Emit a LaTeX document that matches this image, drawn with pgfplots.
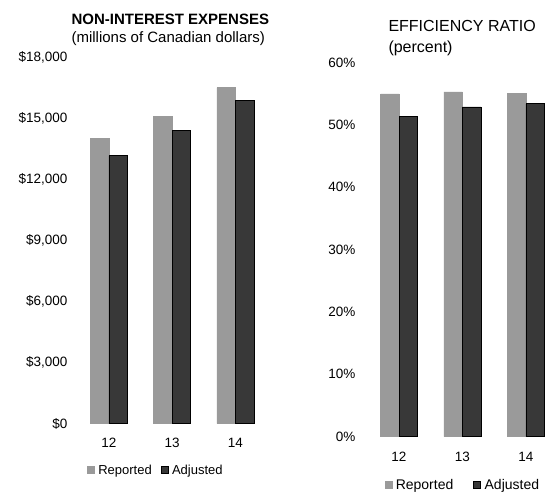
\documentclass[border=0pt]{standalone}
\usepackage{pgfplots}
\pgfplotsset{compat=1.18}
\usepackage{fontspec}
\setmainfont{Liberation Sans}

\definecolor{repgray}{HTML}{9A9A9A}
\definecolor{adjdark}{HTML}{383838}

\pgfplotsset{
    tdbars/.style={
        scale only axis,
        anchor=south west,
        ybar=0pt,
        bar width=18.5bp,
        ymin=0,
        scaled y ticks=false,
        xtick=data,
        xticklabels={12,13,14},
        axis line style={draw=none},
        major tick length=0pt,
        tick label style={
            /pgf/number format/assume math mode=true,
            font=\fontsize{13.5bp}{15bp}\selectfont
        },
        legend columns=2,
        legend cell align=left,
        legend style={draw=none, fill=none, inner sep=0pt,
            /tikz/every odd column/.append style={column sep=1.5bp}},
        legend image code/.code={
            \draw[#1] (0bp,-3.5bp) rectangle (7bp,3.5bp);
        },
    },
    repbar/.style={fill=repgray, draw=repgray},
    adjbar/.style={fill=adjdark, draw=black, line width=0.8pt},
}

\pgfplotstableread{
x  rep    adj
0  13998  13162
1  15069  14390
2  16496  15863
}\expenses

\pgfplotstableread{
x  rep   adj
0  55.0  51.3
1  55.3  52.9
2  55.1  53.4
}\efficiency

\begin{document}
\begin{tikzpicture}
\path[use as bounding box] (0,0) rectangle (550bp,495bp);

% left panel
\node[anchor=base west, font=\fontsize{15bp}{17bp}\selectfont\bfseries] at (68bp,470bp) {NON-INTEREST EXPENSES};
\node[anchor=base west, font=\fontsize{15bp}{17bp}\selectfont] at (68bp,452bp) {(millions of Canadian dollars)};

\begin{axis}[
    tdbars,
    at={(71bp,71.5bp)},
    width=202.4bp, height=366.5bp,
    xmin=-0.6, xmax=2.6,
    ymax=18000,
    ytick={0,3000,6000,9000,12000,15000,18000},
    yticklabels={{\$0},{\$3,000},{\$6,000},{\$9,000},{\$12,000},{\$15,000},{\$18,000}},
    xticklabel style={yshift=-11bp},
    legend style={at={(0.42,-0.127)}, anchor=center,
        font=\fontsize{13bp}{15bp}\selectfont,
        /tikz/every even column/.append style={column sep=7bp}},
]
\addplot[repbar] table[x=x, y=rep] {\expenses};
\addplot[adjbar] table[x=x, y=adj] {\expenses};
\legend{Reported, Adjusted}
\end{axis}

% right panel
\node[anchor=base west, font=\fontsize{16bp}{18bp}\selectfont] at (385bp,463bp) {EFFICIENCY RATIO};
\node[anchor=base west, font=\fontsize{16bp}{18bp}\selectfont] at (385bp,442bp) {(percent)};

\begin{axis}[
    tdbars,
    at={(360.9bp,58.5bp)},
    width=187.3bp, height=373.8bp,
    xmin=-0.6, xmax=2.35,
    ymax=60,
    ytick={0,10,20,30,40,50,60},
    yticklabels={0\%,10\%,20\%,30\%,40\%,50\%,60\%},
    yticklabel style={xshift=-2bp},
    xticklabel style={yshift=-12bp},
    legend style={at={(0.545,-0.130)}, anchor=center,
        font=\fontsize{14bp}{16bp}\selectfont,
        /tikz/every even column/.append style={column sep=18bp}},
]
\addplot[repbar] table[x=x, y=rep] {\efficiency};
\addplot[adjbar] table[x=x, y=adj] {\efficiency};
\legend{Reported, Adjusted}
\end{axis}
\end{tikzpicture}
\end{document}
